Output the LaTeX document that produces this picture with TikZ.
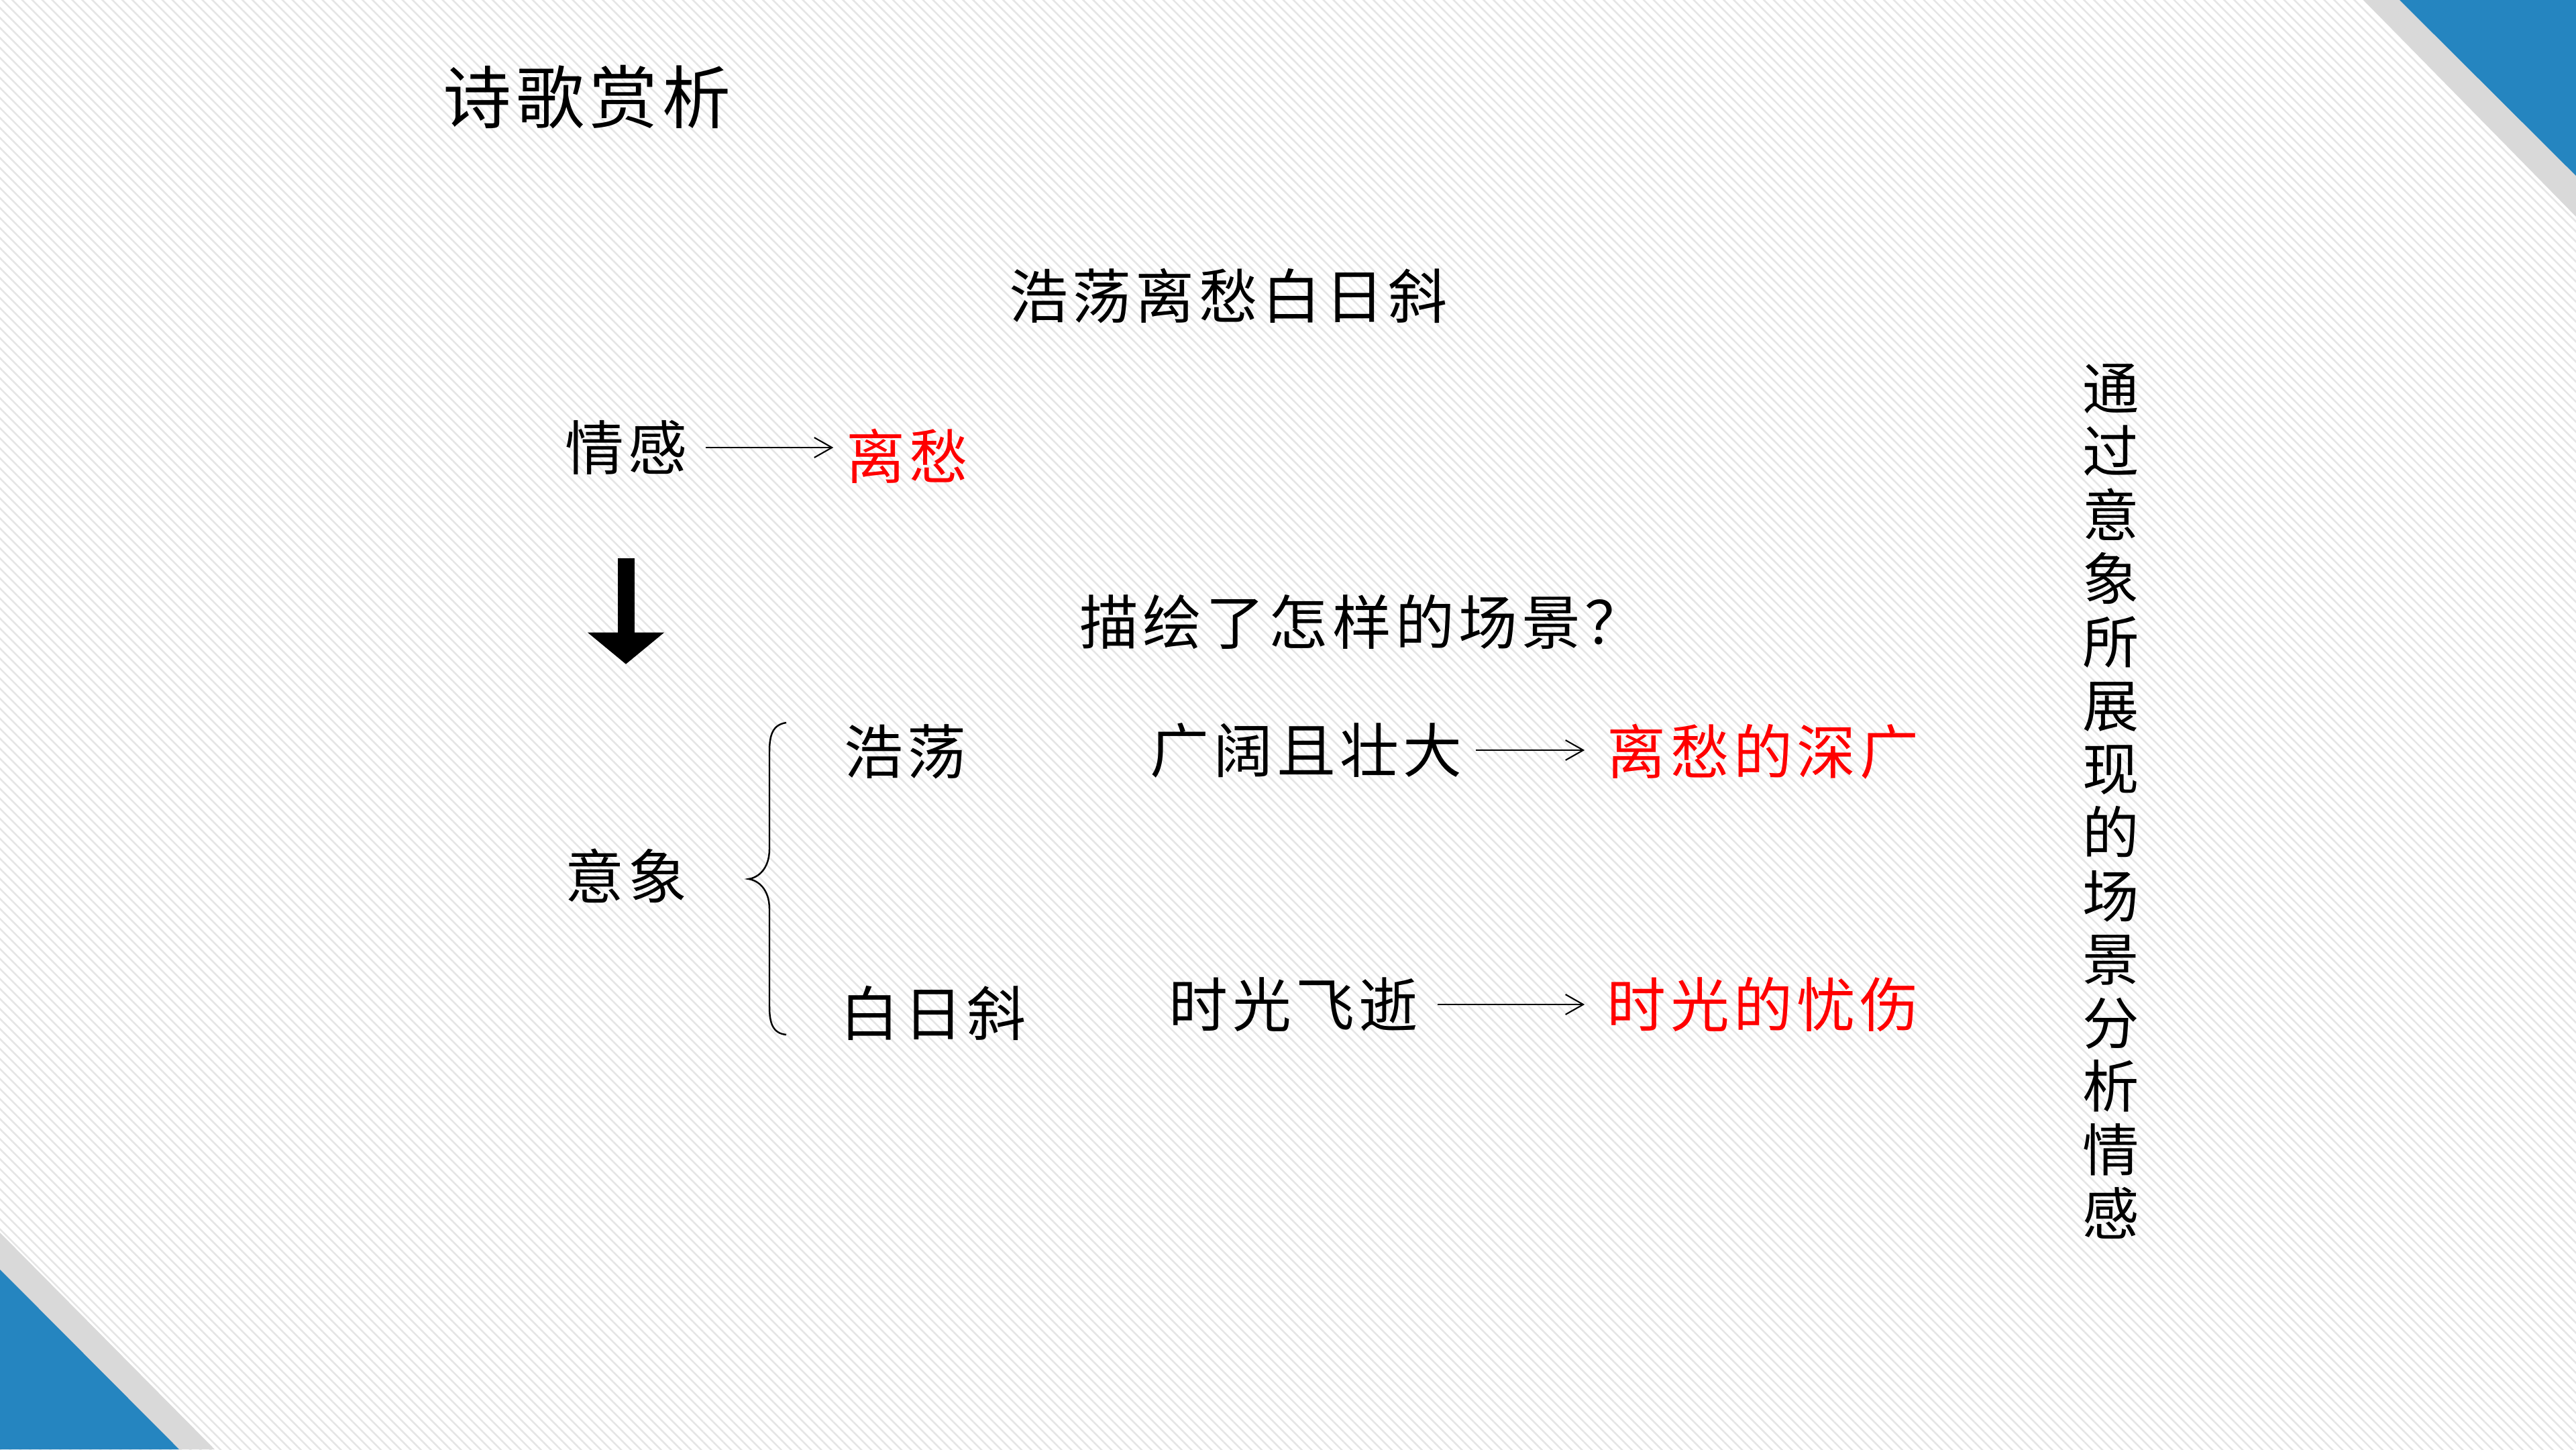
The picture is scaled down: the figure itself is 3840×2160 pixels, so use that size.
\documentclass[tikz,border=0pt]{standalone}
\usepackage{fontspec}
\setmainfont{Noto Sans CJK SC}
\usetikzlibrary{arrows.meta,patterns.meta}
\definecolor{bandblue}{HTML}{2585C0}
\definecolor{bandgray}{HTML}{D9D9D9}
\definecolor{hlred}{HTML}{FF0000}
\begin{document}
\begin{tikzpicture}[x=0.01cm,y=-0.01cm,
  txt/.style={inner sep=0pt, text=black, font=\fontsize{25pt}{30pt}\selectfont\addfontfeatures{LetterSpace=7}},
  redtxt/.style={txt, text=hlred},
  titletxt/.style={inner sep=0pt, font=\fontsize{29pt}{34pt}\selectfont\addfontfeatures{LetterSpace=7}},
  vtxt/.style={inner sep=0pt, align=center, font=\fontsize{24pt}{26.9pt}\selectfont},
  thinarrow/.style={line width=0.6pt, -{Straight Barb[length=7.5pt,width=8.5pt]}},
  bigarrow/.style={line width=0.25cm, -{Triangle[length=0.47cm,width=1.14cm,line width=0pt]}},
  bracepath/.style={line width=0.7pt}]
\useasboundingbox (0,0) rectangle (3840,2160);
% background
\fill[white] (0,0) rectangle (3840,2160);
\fill[pattern={Lines[angle=-45,distance=3pt,line width=0.7pt]}, pattern color=black!10] (0,0) rectangle (3840,2160);
% corner decorations
\fill[bandgray] (3523,0) -- (3840,0) -- (3840,323) -- cycle;
\fill[bandblue] (3577,0) -- (3840,0) -- (3840,262) -- cycle;
\fill[bandgray] (0,1837) -- (0,2160) -- (320,2160) -- cycle;
\fill[bandblue] (0,1892) -- (0,2160) -- (267,2160) -- cycle;
% texts
\node[titletxt] (title) at (875,145) {诗歌赏析};
\node[txt] (poem) at (1831,441) {浩荡离愁白日斜};
\node[txt] (qinggan) at (933,667) {情感};
\node[redtxt] (lichou) at (1352,680) {离愁};
\node[txt] (question) at (2030,927) {描绘了怎样的场景？};
\node[txt] (yixiang) at (933,1305) {意象};
\node[txt] (haodang) at (1349,1120) {浩荡};
\node[txt] (bairi) at (1391,1510) {白日斜};
\node[txt] (guangkuo) at (1947,1118) {广阔且壮大};
\node[redtxt] (shenguang) at (2628,1120) {离愁的深广};
\node[txt] (shiguang) at (1928,1497) {时光飞逝};
\node[redtxt] (youshang) at (2628,1497) {时光的忧伤};
\node[vtxt] (side) at (3147,1194) {通\\过\\意\\象\\所\\展\\现\\的\\场\\景\\分\\析\\情\\感};
% connectors
\draw[thinarrow, shorten <=0.27cm, shorten >=0.18cm] (qinggan.east) -- (lichou.west |- qinggan.east);
\draw[thinarrow, shorten <=0.2cm, shorten >=0.33cm] (guangkuo.east) -- (shenguang.west |- guangkuo.east);
\draw[thinarrow, shorten <=0.29cm, shorten >=0.33cm] (shiguang.east) -- (youshang.west |- shiguang.east);
\draw[bigarrow, shorten <=1.24cm, shorten >=2.74cm] (qinggan.south) -- (yixiang.north);
% brace
\draw[bracepath] (1172,1077) .. controls (1152,1080) and (1147,1095) .. (1147,1120) -- (1147,1265) .. controls (1147,1295) and (1130,1308) .. (1116,1310) .. controls (1130,1312) and (1147,1325) .. (1147,1355) -- (1147,1500) .. controls (1147,1525) and (1152,1540) .. (1172,1542);
\end{tikzpicture}
\end{document}
